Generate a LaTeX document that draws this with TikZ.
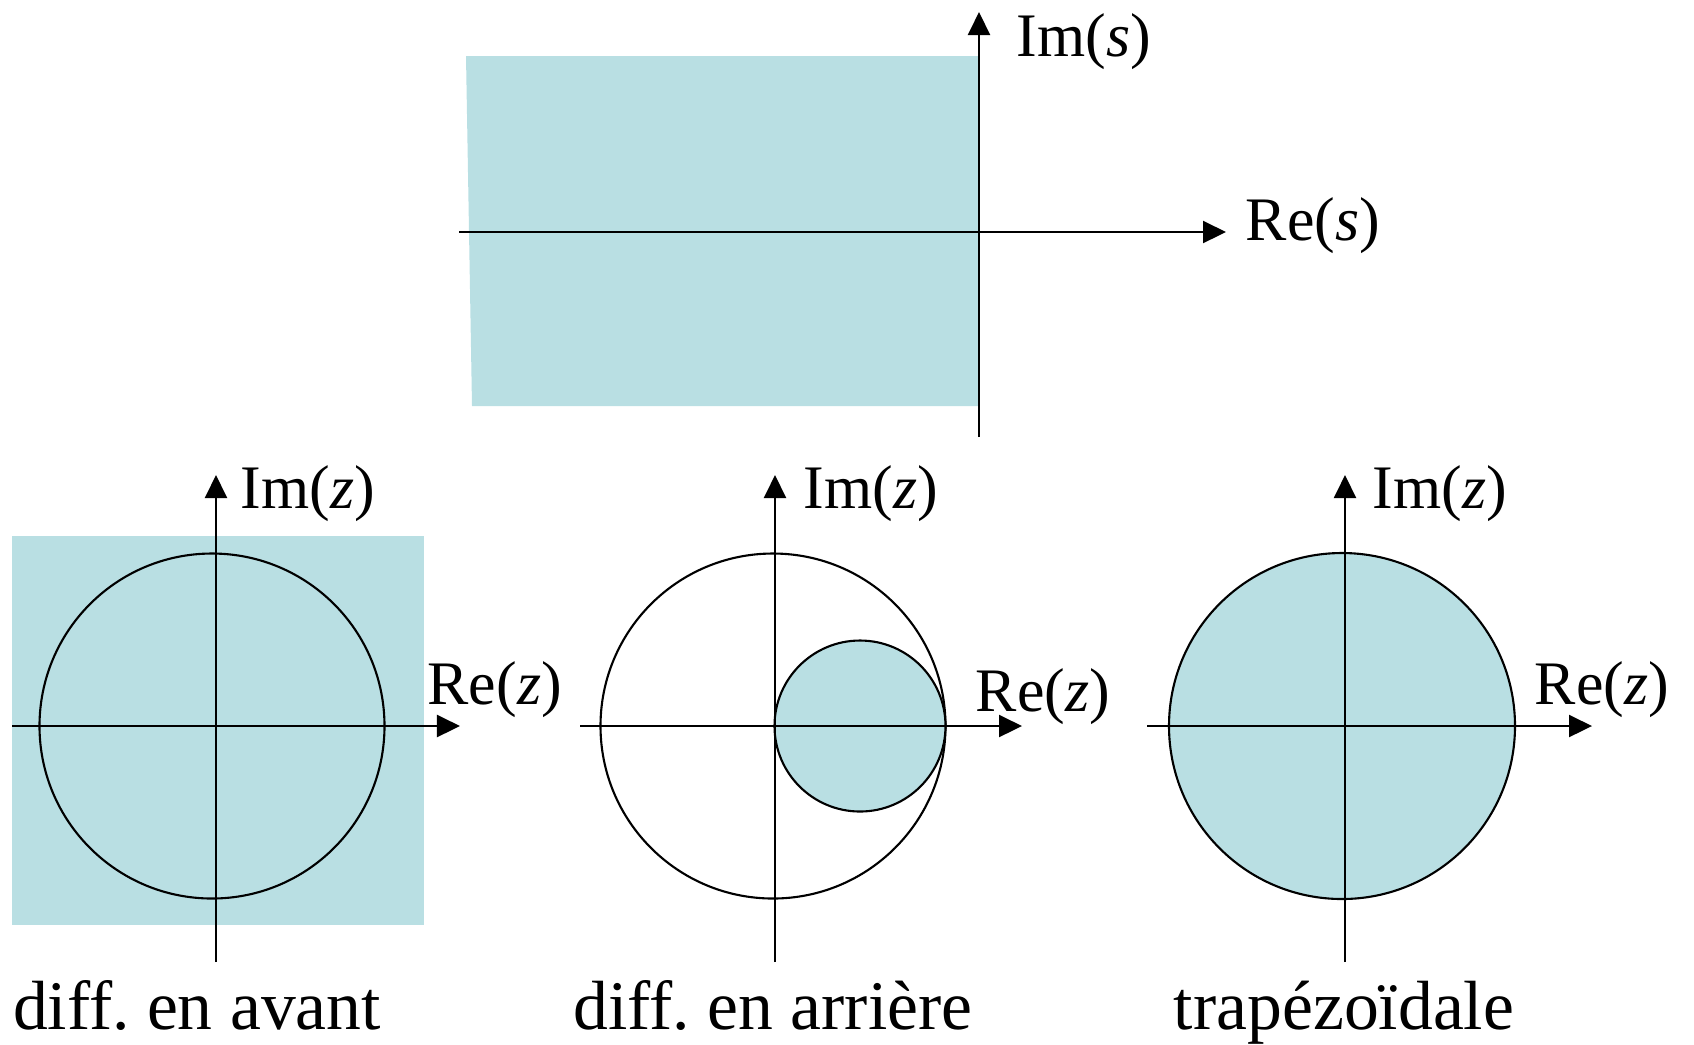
\documentclass[tikz,border=0pt]{standalone}
\usepackage{fontspec}
\setmainfont{Liberation Serif}
\usetikzlibrary{arrows.meta,positioning}
\definecolor{zonebleue}{RGB}{185,223,227}
\tikzset{
  axe/.style={-{Triangle[length=0.23cm,width=0.22cm]},line width=0.6pt,black},
  zone/.style={fill=zonebleue,draw=none},
  cercle/.style={line width=0.6pt,draw=black},
  lbl/.style={inner sep=0pt,anchor=base west,font=\fontsize{17.6}{20}\selectfont},
  legende/.style={inner sep=0pt,anchor=base,font=\fontsize{19.8}{24}\selectfont}
}
\frenchspacing

\begin{document}
\begin{tikzpicture}[x=0.01cm,y=-0.01cm]
  \useasboundingbox (0,0) rectangle (1694,1044);

  % plan s
  \coordinate (os) at (979,232);
  \fill[zonebleue] (466,56) -- (979,56) -- (979,406) -- (472,406) -- cycle;
  \coordinate (sb) at (979,437); \coordinate (st) at (979,12);
  \coordinate (sl) at (459,232); \coordinate (sr) at (1226,232);
  \draw[axe] (sb) -- (st);
  \draw[axe] (sl) -- (sr);
  \node[lbl] (ims) at (1016,56) {Im(\textit{s})};
  \node[lbl] (res) at (1245,240) {Re(\textit{s})};

  % diff. en avant
  \coordinate (o1) at (216,726);
  \fill[zonebleue] (12,536) rectangle (424,925);
  \draw[cercle] (212,726) circle (172.5);
  \draw[axe] (216,962) -- (216,475);
  \draw[axe] (12,726) -- (460,726);
  \node[lbl] (im1) at (240,508) {Im(\textit{z})};
  \node[lbl] (re1) at (427,704) {Re(\textit{z})};
  \node[legende] (cap1) at (197,1029) {diff. en avant};

  % diff. en arriere
  \coordinate (o2) at (775,726);
  \draw[cercle] (773,726) circle (172.5);
  \draw[cercle,fill=zonebleue] (860,726) circle (85.5);
  \draw[axe] (775,962) -- (775,475);
  \draw[axe] (580,726) -- (1022,726);
  \node[lbl] (im2) at (803,508) {Im(\textit{z})};
  \node[lbl] (re2) at (975,711) {Re(\textit{z})};
  \node[legende] (cap2) at (773,1029) {diff. en arrière};

  % trapezoidale
  \coordinate (o3) at (1345,726);
  \draw[cercle,fill=zonebleue] (1342,726) circle (173);
  \draw[axe] (1345,962) -- (1345,475);
  \draw[axe] (1147,726) -- (1592,726);
  \node[lbl] (im3) at (1372,508) {Im(\textit{z})};
  \node[lbl] (re3) at (1534,704) {Re(\textit{z})};
  \node[legende] (cap3) at (1344,1029) {trapézoïdale};
\end{tikzpicture}
\end{document}
